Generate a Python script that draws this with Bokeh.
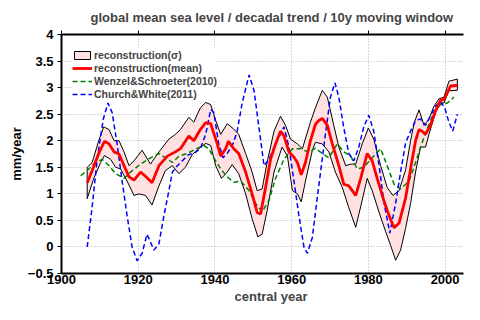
from bokeh.plotting import figure
from bokeh.models import LinearAxis, Legend, LegendItem, FixedTicker, CustomLabelingPolicy, Title
from bokeh.embed import file_html
from bokeh.resources import INLINE

# ---------------- data ----------------
mean_years = [1906.7, 1908.0, 1909.7, 1911.2, 1912.4, 1913.7, 1915.0, 1916.3, 1917.6, 1918.9,
              1920.6, 1921.9, 1923.6, 1925.4, 1927.6, 1929.7, 1931.0, 1933.2, 1934.5, 1936.2,
              1937.6, 1938.9, 1940.6, 1941.5, 1942.8, 1943.5, 1944.9, 1946.2, 1948.0, 1949.7,
              1951.0, 1951.9, 1953.2, 1954.5, 1955.8, 1957.1, 1958.0, 1959.3, 1960.6, 1961.5,
              1962.5, 1963.6, 1964.9, 1966.2, 1967.1, 1968.0, 1969.3, 1970.6, 1972.3, 1973.6,
              1974.9, 1976.7, 1978.0, 1979.7, 1981.0, 1982.3, 1984.0, 1985.4, 1986.7, 1988.0,
              1989.7, 1991.0, 1992.3, 1993.2, 1994.0, 1994.9, 1996.2, 1997.5, 1998.8, 1999.7,
              2000.6, 2001.4, 2003.2]
mean_vals = [1.21, 1.44, 1.76, 1.99, 1.94, 1.79, 1.75, 1.53, 1.32, 1.26,
             1.41, 1.33, 1.21, 1.53, 1.71, 1.79, 1.85, 2.09, 2.00, 2.21,
             2.34, 2.32, 1.94, 1.71, 1.85, 1.99, 1.85, 1.76, 1.41, 1.00,
             0.65, 0.62, 1.12, 1.65, 1.94, 2.18, 2.09, 1.79, 1.69, 1.59,
             1.36, 1.59, 2.00, 2.31, 2.38, 2.42, 2.29, 1.94, 1.53, 1.18,
             1.15, 0.97, 1.29, 1.76, 1.62, 1.29, 0.88, 0.59, 0.36, 0.45,
             0.92, 1.47, 2.00, 2.21, 2.18, 2.12, 2.29, 2.56, 2.76, 2.78,
             2.91, 3.03, 3.04]

upper_years = [1906.7, 1908.0, 1909.7, 1911.0, 1912.4, 1913.7, 1915.0, 1916.3, 1917.6, 1918.9,
               1921.0, 1923.2, 1925.4, 1928.0, 1929.7, 1931.0, 1933.2, 1934.5, 1936.2, 1937.6,
               1938.9, 1940.2, 1941.5, 1943.2, 1944.9, 1946.2, 1948.0, 1949.7, 1951.0, 1952.3,
               1953.6, 1955.4, 1957.1, 1958.4, 1959.7, 1961.5, 1962.8, 1964.9, 1966.2, 1968.0,
               1969.3, 1970.6, 1972.3, 1974.1, 1975.4, 1976.7, 1978.4, 1980.0, 1981.4, 1983.2,
               1984.9, 1986.4, 1988.0, 1989.7, 1991.0, 1992.0, 1993.2, 1994.5, 1995.8, 1997.1,
               1998.4, 1999.7, 2001.0, 2003.2]
upper_vals = [1.50, 1.59, 2.00, 2.26, 2.21, 2.00, 2.00, 1.79, 1.53, 1.62,
              1.82, 1.56, 1.79, 2.03, 2.12, 2.21, 2.44, 2.35, 2.62, 2.72,
              2.68, 2.38, 2.12, 2.32, 2.22, 2.12, 1.76, 1.41, 1.06, 1.09,
              1.59, 2.18, 2.46, 2.29, 2.03, 1.94, 1.85, 2.35, 2.62, 2.95,
              2.82, 2.41, 1.88, 1.53, 1.56, 1.56, 1.94, 2.24, 2.03, 1.53,
              1.12, 0.97, 1.06, 1.45, 2.00, 2.35, 2.58, 2.29, 2.41, 2.65,
              2.79, 2.82, 3.12, 3.16]

lower_years = [1906.7, 1908.4, 1910.2, 1911.2, 1912.8, 1914.1, 1915.4, 1917.1, 1918.9, 1920.2,
               1921.9, 1923.6, 1925.4, 1927.1, 1928.9, 1930.6, 1932.3, 1934.1, 1935.8, 1937.6,
               1938.9, 1940.2, 1941.7, 1943.2, 1944.5, 1946.2, 1948.0, 1949.7, 1951.2, 1952.3,
               1953.6, 1955.4, 1957.5, 1958.9, 1960.2, 1961.5, 1962.5, 1963.6, 1965.4, 1966.2,
               1968.0, 1969.7, 1971.4, 1973.2, 1974.9, 1976.7, 1978.0, 1979.7, 1981.0, 1982.8,
               1984.5, 1985.8, 1987.1, 1988.4, 1989.7, 1991.0, 1992.3, 1993.6, 1994.9, 1995.8,
               1997.5, 1998.8, 1999.7, 2001.0, 2003.2]
lower_vals = [0.91, 1.29, 1.59, 1.72, 1.65, 1.50, 1.47, 1.24, 0.97, 1.00,
              0.97, 0.79, 1.15, 1.44, 1.53, 1.38, 1.50, 1.74, 1.85, 1.95,
              1.91, 1.53, 1.29, 1.41, 1.55, 1.38, 1.00, 0.53, 0.19, 0.24,
              0.68, 1.41, 1.88, 1.71, 1.06, 1.00, 0.85, 1.24, 1.82, 1.97,
              1.94, 1.79, 1.41, 1.12, 0.74, 0.37, 0.76, 1.29, 1.06, 0.65,
              0.29, 0.03, -0.25, -0.06, 0.35, 0.82, 1.41, 1.88, 1.88, 2.12,
              2.53, 2.71, 2.71, 2.94, 2.95]

wenzel_years = [1905.0, 1906.7, 1908.4, 1910.6, 1912.4, 1914.1, 1916.3, 1918.0, 1920.6, 1922.8,
                1925.4, 1927.1, 1928.9, 1930.6, 1932.8, 1934.9, 1937.1, 1938.4, 1939.7, 1941.5,
                1943.2, 1944.9, 1946.7, 1948.9, 1950.6, 1952.3, 1954.1, 1955.8, 1958.0, 1960.2,
                1962.3, 1964.5, 1966.2, 1968.0, 1969.7, 1971.9, 1973.6, 1975.4, 1977.1, 1978.8,
                1981.0, 1983.2, 1984.9, 1986.7, 1988.4, 1990.6, 1992.3, 1993.6, 1995.4, 1997.1,
                1998.8, 2000.6, 2002.3]
wenzel_vals = [1.34, 1.44, 1.56, 1.65, 1.53, 1.38, 1.29, 1.41, 1.56, 1.66,
               1.76, 1.68, 1.59, 1.71, 1.76, 1.84, 1.91, 1.85, 1.68, 1.47,
               1.32, 1.22, 1.24, 1.06, 0.82, 0.66, 0.88, 1.29, 1.65, 1.85,
               1.85, 1.78, 1.86, 1.76, 1.68, 1.94, 1.79, 1.71, 1.47, 1.50,
               1.68, 1.85, 1.53, 1.18, 1.09, 1.24, 1.59, 1.88, 2.24, 2.53,
               2.68, 2.71, 2.82]

church_years = [1906.7, 1908.0, 1909.3, 1910.9, 1912.1, 1913.2, 1914.5, 1915.8, 1917.1, 1918.4,
                1919.7, 1921.0, 1922.3, 1924.1, 1925.4, 1926.7, 1928.0, 1928.9, 1930.2, 1931.9,
                1933.2, 1934.5, 1936.2, 1937.6, 1938.9, 1939.7, 1941.0, 1942.1, 1943.2, 1944.7,
                1945.8, 1947.1, 1948.9, 1950.2, 1951.5, 1952.8, 1954.1, 1955.8, 1958.0, 1959.3,
                1960.6, 1961.9, 1963.2, 1964.1, 1965.4, 1966.7, 1968.8, 1970.1, 1971.3, 1972.3,
                1973.6, 1974.9, 1976.2, 1977.5, 1978.8, 1980.1, 1981.4, 1982.8, 1984.1, 1985.6,
                1987.1, 1988.4, 1989.7, 1991.0, 1992.3, 1993.6, 1994.9, 1996.2, 1997.5, 1998.8,
                1999.9, 2001.0, 2002.0, 2003.2]
church_vals = [0.00, 0.76, 1.65, 2.41, 2.71, 2.53, 1.94, 1.24, 0.59, 0.00,
               -0.26, -0.12, 0.24, -0.06, 0.06, 0.59, 1.06, 1.41, 1.53, 1.65,
               1.74, 1.76, 1.85, 2.12, 2.59, 2.53, 1.94, 1.68, 1.76, 1.94,
               2.18, 2.71, 3.24, 2.94, 2.24, 1.53, 1.65, 1.94, 2.26, 1.88,
               1.24, 0.59, 0.00, -0.12, 0.18, 0.94, 2.12, 2.82, 3.09, 2.82,
               2.24, 1.76, 1.62, 1.88, 2.26, 2.48, 2.18, 1.53, 0.82, 0.26,
               0.82, 1.41, 1.96, 2.18, 2.38, 2.41, 2.29, 2.47, 2.65, 2.74,
               2.62, 2.35, 2.18, 2.50]

x_ticks = [1900, 1920, 1940, 1960, 1980, 2000]
y_ticks = [-0.5, 0.0, 0.5, 1.0, 1.5, 2.0, 2.5, 3.0, 3.5, 4.0]
y_tick_labels = ["\u22120.5", "0", "0.5", "1", "1.5", "2", "2.5", "3", "3.5", "4"]

title_text = "global mean sea level / decadal trend / 10y moving window"
x_label = "central year"
y_label = "mm/year"
legend_labels = ["reconstruction(\u03c3)", "reconstruction(mean)",
                 "Wenzel&Schroeter(2010)", "Church&White(2011)"]

FONT = "Liberation Sans"

# ---------------- figure ----------------
p = figure(width=464, height=304, x_range=(1900, 2004.8), y_range=(-0.5, 4),
           output_backend="svg", toolbar_location=None,
           min_border_left=61, min_border_right=1, min_border_top=34, min_border_bottom=31)
p.background_fill_color = "white"
p.border_fill_color = "white"
p.outline_line_color = None

p.title.text = title_text
p.title.align = "left"
p.title.offset = 29
p.title.text_font = FONT
p.title.text_font_style = "bold"
p.title.text_font_size = "13px"
p.title.standoff = 3

for ax in (p.xaxis[0], p.yaxis[0]):
    ax.minor_tick_line_color = None
    ax.axis_line_width = 2
    ax.axis_line_color = "black"
    ax.major_tick_line_color = "black"
    ax.major_label_text_font = FONT
    ax.major_label_text_font_style = "bold"
    ax.major_label_text_font_size = "13px"
    ax.major_label_text_color = "black"
    ax.axis_label_text_font = FONT
    ax.axis_label_text_font_style = "bold"
    ax.axis_label_text_font_size = "13px"
    ax.axis_label_text_color = "black"

p.xaxis[0].ticker = FixedTicker(ticks=x_ticks)
p.xaxis[0].major_tick_in = 0
p.xaxis[0].major_tick_out = 0
p.xaxis[0].major_label_standoff = 1

p.yaxis[0].ticker = FixedTicker(ticks=y_ticks)
p.yaxis[0].major_label_overrides = {v: s for v, s in zip(y_ticks, y_tick_labels)}
p.yaxis[0].major_tick_in = 0
p.yaxis[0].major_tick_out = 4
p.yaxis[0].major_label_standoff = 4
p.yaxis[0].axis_label = y_label
p.yaxis[0].axis_label_standoff = 1

x_title = Title(text=x_label, align="left", offset=173, text_font=FONT,
                text_font_style="bold", text_font_size="13px", standoff=0)
p.add_layout(x_title, "below")

no_labels = CustomLabelingPolicy(code="""
for (const i of Array.from(indices)) { indices.unset(i) }
return indices
""")
top_axis = LinearAxis(ticker=FixedTicker(ticks=x_ticks), major_label_policy=no_labels,
                      major_tick_in=0, major_tick_out=4, minor_tick_line_color=None,
                      axis_line_width=2, axis_line_color="black", major_label_standoff=0,
                      major_label_text_font_size="1px")
p.add_layout(top_axis, "above")

for g in (p.xgrid[0], p.ygrid[0]):
    g.grid_line_color = "#b0b0b0"
    g.grid_line_dash = "1 2"
    g.grid_line_width = 1
p.xgrid[0].ticker = FixedTicker(ticks=x_ticks)
p.ygrid[0].ticker = FixedTicker(ticks=y_ticks)

# ---------------- glyphs ----------------
band = p.patch(upper_years + lower_years[::-1], upper_vals + lower_vals[::-1],
               fill_color="#ffe1e1", line_color="black", line_width=1)
wenzel = p.line(wenzel_years, wenzel_vals, line_color="#008000", line_width=1.5, line_dash="5 3")
church = p.line(church_years, church_vals, line_color="#0000ff", line_width=1.5, line_dash="5 3")
mean = p.line(mean_years, mean_vals, line_color="#ff0000", line_width=2.8)

legend = Legend(items=[LegendItem(label=legend_labels[0], renderers=[band]),
                       LegendItem(label=legend_labels[1], renderers=[mean]),
                       LegendItem(label=legend_labels[2], renderers=[wenzel]),
                       LegendItem(label=legend_labels[3], renderers=[church])],
                location=(11, 173))
legend.label_text_font = FONT
legend.label_text_font_style = "bold"
legend.label_text_font_size = "10.5px"
legend.label_standoff = 2
legend.glyph_width = 20
legend.glyph_height = 10
legend.label_height = 13
legend.spacing = 0
legend.padding = 4
legend.margin = 0
legend.border_line_color = None
legend.background_fill_color = "white"
legend.background_fill_alpha = 1.0
p.add_layout(legend)

open("out.html", "w").write(file_html(p, INLINE))
